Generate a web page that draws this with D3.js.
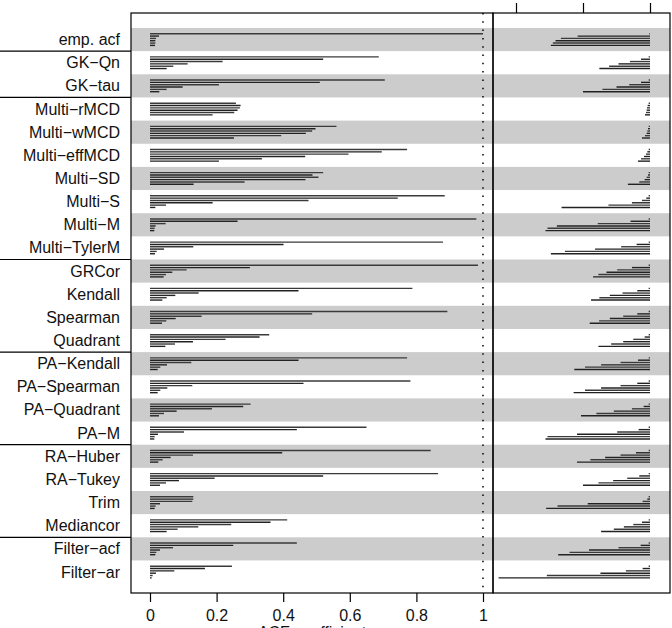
<!DOCTYPE html>
<html lang="en">
<head>
    <meta charset="UTF-8">
    <title>ACF coefficient by estimator</title>
    <script src="https://d3js.org/d3.v7.min.js"></script>
    <style>
        body {
            margin: 0;
            background: white;
        }
        text {
            font-family: "Liberation Sans", Arial, sans-serif;
        }
    </style>
</head>
<body>
    <div class="chart"></div>
    <script>
        // Row labels (top to bottom)
        const rows = [
            'emp. acf', 'GK−Qn', 'GK−tau',
            'Multi−rMCD', 'Multi−wMCD', 'Multi−effMCD', 'Multi−SD', 'Multi−S', 'Multi−M', 'Multi−TylerM',
            'GRCor', 'Kendall', 'Spearman', 'Quadrant',
            'PA−Kendall', 'PA−Spearman', 'PA−Quadrant', 'PA−M',
            'RA−Huber', 'RA−Tukey', 'Trim', 'Mediancor',
            'Filter−acf', 'Filter−ar'
        ];

        // separator line drawn above these row indices
        const groupStarts = [1, 3, 10, 14, 18, 22];

        // left panel: six bars per row (top to bottom)
        const leftVals = [
            [1.0, 0.027, 0.018, 0.016, 0.016, 0.015],
            [0.687, 0.52, 0.218, 0.113, 0.07, 0.05],
            [0.705, 0.51, 0.207, 0.098, 0.05, 0.028],
            [0.258, 0.272, 0.27, 0.263, 0.253, 0.188],
            [0.56, 0.497, 0.487, 0.468, 0.394, 0.252],
            [0.772, 0.696, 0.596, 0.466, 0.336, 0.207],
            [0.52, 0.488, 0.506, 0.467, 0.284, 0.131],
            [0.885, 0.744, 0.476, 0.188, 0.048, 0.016],
            [0.98, 0.263, 0.047, 0.017, 0.014, 0.013],
            [0.88, 0.401, 0.13, 0.042, 0.02, 0.015],
            [0.985, 0.3, 0.11, 0.067, 0.048, 0.041],
            [0.788, 0.446, 0.146, 0.076, 0.05, 0.037],
            [0.893, 0.487, 0.155, 0.077, 0.049, 0.036],
            [0.358, 0.329, 0.227, 0.129, 0.075, 0.046],
            [0.772, 0.446, 0.124, 0.051, 0.031, 0.023],
            [0.782, 0.461, 0.127, 0.052, 0.031, 0.023],
            [0.302, 0.28, 0.186, 0.08, 0.042, 0.027],
            [0.65, 0.441, 0.102, 0.024, 0.014, 0.013],
            [0.843, 0.397, 0.129, 0.062, 0.038, 0.025],
            [0.865, 0.52, 0.194, 0.087, 0.048, 0.03],
            [0.13, 0.13, 0.127, 0.03, 0.017, 0.014],
            [0.412, 0.362, 0.244, 0.145, 0.083, 0.05],
            [0.441, 0.25, 0.069, 0.03, 0.019, 0.016],
            [0.246, 0.165, 0.073, 0.018, 0.008, 0.005]
        ];

        // right panel: bars hang left from 0
        const rightVals = [
            [-0.01, -1.08, -1.33, -1.41, -1.45, -1.48],
            [-0.02, -0.134, -0.3, -0.47, -0.61, -0.756],
            [-0.02, -0.134, -0.31, -0.5, -0.71, -1.0],
            [-0.02, -0.035, -0.045, -0.05, -0.06, -0.075],
            [-0.02, -0.03, -0.04, -0.05, -0.075, -0.12],
            [-0.02, -0.04, -0.06, -0.09, -0.134, -0.18],
            [-0.02, -0.03, -0.05, -0.08, -0.16, -0.33],
            [-0.02, -0.055, -0.12, -0.27, -0.62, -1.32],
            [-0.02, -0.29, -0.78, -1.39, -1.53, -1.56],
            [-0.02, -0.2, -0.43, -0.82, -1.27, -1.48],
            [-0.02, -0.27, -0.49, -0.65, -0.77, -0.85],
            [-0.02, -0.19, -0.41, -0.6, -0.756, -0.88],
            [-0.02, -0.19, -0.4, -0.6, -0.76, -0.9],
            [-0.02, -0.08, -0.25, -0.4, -0.58, -0.77],
            [-0.02, -0.18, -0.44, -0.73, -0.97, -1.13],
            [-0.02, -0.19, -0.44, -0.73, -0.97, -1.14],
            [-0.02, -0.095, -0.27, -0.54, -0.8, -1.03],
            [-0.02, -0.17, -0.49, -1.09, -1.53, -1.56],
            [-0.02, -0.21, -0.44, -0.67, -0.89, -1.09],
            [-0.02, -0.16, -0.34, -0.55, -0.77, -1.0],
            [-0.02, -0.04, -0.11, -0.93, -1.38, -1.55],
            [-0.02, -0.12, -0.25, -0.39, -0.54, -0.73],
            [-0.02, -0.14, -0.47, -0.91, -1.2, -1.37],
            [-0.02, -0.11, -0.36, -0.74, -1.54, -2.26]
        ];

        const leftTicks = [0, 0.2, 0.4, 0.6, 0.8, 1];
        const rightTicks = [-2, -1, 0];
        const xTitle = 'ACF coefficient';

        // Layout
        const width = 672, height = 628;
        const plotTop = 13, plotBottom = 593;
        const leftX0 = 131, midX = 493, rightX1 = 670;

        const svg = d3.select('.chart').append('svg')
            .attr('width', width)
            .attr('height', height);

        const x = d3.scaleLinear().domain([0, 1]).range([150, 483]);
        const xr = d3.scaleLinear().domain([-2, 0]).range([516, 650]);
        const y = d3.scaleBand().domain(rows).range([28, 28 + 24 * 23.15]);
        const barStep = 2.33;

        // grey bands for every other row
        svg.append('g').selectAll('rect')
            .data(rows.filter((_, i) => i % 2 === 0))
            .join('rect')
            .attr('x', leftX0)
            .attr('y', d => y(d))
            .attr('width', rightX1 - leftX0)
            .attr('height', y.bandwidth())
            .attr('fill', '#cccccc');

        // dotted reference line at 1
        svg.append('line')
            .attr('x1', x(1)).attr('x2', x(1))
            .attr('y1', plotTop).attr('y2', plotBottom)
            .attr('stroke', 'black')
            .attr('stroke-width', 1.5)
            .attr('stroke-dasharray', '1.5,6.8');

        // bars
        function drawBars(vals, scale) {
            const g = svg.append('g');
            vals.forEach((rowVals, i) => {
                const cy = y(rows[i]) + y.bandwidth() / 2;
                g.selectAll(null)
                    .data(rowVals)
                    .join('line')
                    .attr('x1', scale(0))
                    .attr('x2', d => scale(d))
                    .attr('y1', (_, k) => cy + (k - 2.5) * barStep)
                    .attr('y2', (_, k) => cy + (k - 2.5) * barStep)
                    .attr('stroke', (_, k) => k % 2 === 0 ? '#3a3a3a' : '#222')
                    .attr('stroke-width', 1.4);
            });
        }
        drawBars(leftVals, x);
        drawBars(rightVals, xr);

        // panel boxes
        svg.append('rect')
            .attr('x', leftX0).attr('y', plotTop)
            .attr('width', midX - leftX0).attr('height', plotBottom - plotTop)
            .attr('fill', 'none').attr('stroke', 'black').attr('stroke-width', 1.2);
        svg.append('rect')
            .attr('x', midX).attr('y', plotTop)
            .attr('width', rightX1 - midX).attr('height', plotBottom - plotTop)
            .attr('fill', 'none').attr('stroke', 'black').attr('stroke-width', 1.2);

        // row labels
        svg.append('g').selectAll('text')
            .data(rows)
            .join('text')
            .attr('x', 120)
            .attr('y', d => y(d) + y.bandwidth() / 2 + 5.5)
            .attr('text-anchor', 'end')
            .attr('font-size', 16)
            .attr('fill', '#111')
            .text(d => d);

        // group separators in the label margin
        svg.append('g').selectAll('line')
            .data(groupStarts)
            .join('line')
            .attr('x1', 0).attr('x2', leftX0)
            .attr('y1', i => y(rows[i])).attr('y2', i => y(rows[i]))
            .attr('stroke', 'black')
            .attr('stroke-width', 1.2);

        // bottom axis (left panel)
        const axB = svg.append('g')
            .attr('transform', `translate(0,${plotBottom})`)
            .call(d3.axisBottom(x).tickValues(leftTicks).tickSize(9).tickPadding(8).tickFormat(d3.format('')));
        axB.select('.domain').remove();
        axB.selectAll('.tick line').attr('stroke-width', 1.2);
        axB.selectAll('text')
            .attr('font-size', 16)
            .attr('font-family', '"Liberation Sans", Arial, sans-serif')
            .attr('fill', '#111');

        // top ticks (right panel), labels fall outside the picture
        const axT = svg.append('g')
            .attr('transform', `translate(0,${plotTop})`)
            .call(d3.axisTop(xr).tickValues(rightTicks).tickSize(10).tickFormat(''));
        axT.select('.domain').remove();
        axT.selectAll('.tick line').attr('stroke-width', 1.2);

        // axis title, only its top shows at the bottom edge (as in the reference)
        svg.append('text')
            .attr('x', (leftX0 + midX) / 2)
            .attr('y', 638)
            .attr('text-anchor', 'middle')
            .attr('font-size', 16)
            .attr('fill', '#111')
            .text(xTitle);
    </script>
</body>
</html>
